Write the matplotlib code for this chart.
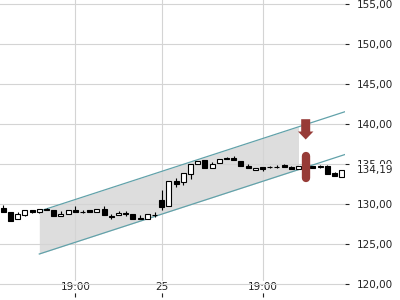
import matplotlib
matplotlib.use("Agg")
import matplotlib.pyplot as plt
import matplotlib.transforms as mtransforms
from matplotlib.patches import Polygon
import numpy as np

# ---- data ----
opens = [129.55, 129.0, 128.1, 128.6, 129.25, 129.0, 129.38, 129.25, 128.45, 128.7,
         129.25, 129.05, 129.2, 129.0, 129.38, 128.55, 128.62, 128.92, 128.7, 128.3,
         128.1, 128.6, 130.5, 129.7, 132.9, 132.8, 133.75, 135.0, 135.5, 134.45,
         135.1, 135.75, 135.75, 135.35, 134.8, 134.25, 134.6, 134.6, 134.65, 134.85,
         134.6, 134.4, 134.7, 134.75, 134.65, 134.7, 133.85, 133.4]
closes = [129.05, 127.9, 128.7, 129.3, 129.0, 129.33, 129.2, 128.55, 128.7, 129.2,
          129.05, 129.0, 128.97, 129.38, 128.62, 128.38, 128.85, 128.75, 128.12, 128.12,
          128.7, 128.65, 129.65, 132.9, 132.45, 133.85, 135.0, 135.4, 134.45, 135.0,
          135.6, 135.6, 135.55, 134.8, 134.5, 134.45, 134.4, 134.65, 134.65, 134.6,
          134.4, 134.75, 134.75, 134.55, 134.7, 133.75, 133.5, 134.19]
highs = [129.9, 129.0, 128.95, 129.3, 129.25, 129.33, 129.55, 129.25, 129.1, 129.2,
         129.75, 129.2, 129.3, 129.38, 129.75, 128.7, 129.1, 129.1, 128.7, 128.62,
         128.7, 128.95, 131.75, 132.9, 133.2, 133.85, 135.0, 135.4, 135.5, 135.3,
         135.6, 135.9, 135.95, 135.35, 135.0, 134.45, 134.6, 134.8, 134.85, 135.0,
         134.7, 134.75, 134.9, 134.75, 134.9, 134.85, 134.0, 134.19]
lows = [129.05, 127.9, 128.1, 128.45, 128.9, 128.85, 129.2, 128.55, 128.45, 128.7,
        129.05, 128.85, 128.97, 129.0, 128.62, 128.12, 128.62, 128.55, 128.12, 128.12,
        128.1, 128.35, 129.3, 129.7, 132.15, 132.4, 133.1, 135.0, 134.45, 134.45,
        135.1, 135.6, 135.55, 134.8, 134.5, 134.25, 134.15, 134.45, 134.55, 134.6,
        134.4, 134.4, 134.5, 134.55, 134.45, 133.75, 133.5, 133.4]

x_tick_pos = [10, 22, 36]
x_tick_labels = ["19:00", "25", "19:00"]
y_ticks = [120, 125, 130, 135, 140, 145, 150, 155]
last_price = 134.19

channel_x = [5, 47.5]
channel_upper = [129.1, 141.55]
channel_lower = [123.75, 136.2]
channel_fill_end = 41

signal_x = 42
pill_range = [132.71, 136.54]
arrow_top, arrow_head_base, arrow_tip = 140.6, 139.06, 138.06

# ---- figure ----
fig = plt.figure(figsize=(4, 3), dpi=100)
ax = fig.add_axes([0, 3 / 300, 345 / 400, 297 / 300])
ax.set_xlim(-3.3 / 7.2, (345 - 3.3) / 7.2)
ax.set_ylim(118.375, 155.5)

for s in ax.spines.values():
    s.set_visible(False)

ax.set_axisbelow(True)
ax.grid(True, color="#d4d4d4", lw=0.8)

# channel
xf = np.linspace(channel_x[0], channel_fill_end, 50)
ax.fill_between(xf, np.interp(xf, channel_x, channel_lower),
                np.interp(xf, channel_x, channel_upper),
                color="#dddddd", lw=0, zorder=0.3)
ax.plot(channel_x, channel_upper, color="#62a2aa", lw=0.9, zorder=2)
ax.plot(channel_x, channel_lower, color="#62a2aa", lw=0.9, zorder=2)

# candles
x = np.arange(len(opens))
o = np.array(opens); c = np.array(closes)
ax.vlines(x, lows, highs, color="black", lw=0.8, zorder=3)
face = ["white" if cc > oo else "black" for oo, cc in zip(o, c)]
ax.bar(x, np.abs(c - o), bottom=np.minimum(o, c), width=0.68,
       color=face, edgecolor="black", lw=0.8, zorder=4)

# signal: pill + arrow
red = "#973b37"
r = 4 / 8.0
ax.plot([signal_x, signal_x], [pill_range[0] + r, pill_range[1] - r],
        color=red, lw=6, solid_capstyle="round", zorder=5)
sw, hw = 0.625, 1.07
arrow = Polygon([(signal_x - sw, arrow_top), (signal_x + sw, arrow_top),
                 (signal_x + sw, arrow_head_base), (signal_x + hw, arrow_head_base),
                 (signal_x, arrow_tip), (signal_x - hw, arrow_head_base),
                 (signal_x - sw, arrow_head_base)],
                closed=True, color=red, lw=0, zorder=5)
ax.add_patch(arrow)

# ticks
tc = "#222222"
ax.yaxis.tick_right()
ax.set_yticks(y_ticks)
ax.set_yticklabels([f"{v:.2f}".replace(".", ",") for v in y_ticks])
ax.tick_params(axis="y", direction="out", length=3, width=0.8, color=tc,
               labelcolor=tc, labelsize=7.5, pad=5.5)
ax.set_xticks(x_tick_pos)
ax.set_xticklabels(x_tick_labels)
ax.tick_params(axis="x", direction="in", length=3, width=0.8, color=tc,
               labelcolor=tc, labelsize=7.5, pad=-10.8)
for lab in ax.get_xticklabels():
    lab.set_bbox(dict(facecolor="white", edgecolor="none", pad=0.5))

ax.annotate(f"{last_price:.2f}".replace(".", ","), xy=(1, last_price),
            xycoords=("axes fraction", "data"), xytext=(8.5, 0),
            textcoords="offset points", ha="left", va="center",
            fontsize=7.5, color=tc, annotation_clip=False,
            bbox=dict(facecolor="white", edgecolor="none", pad=1.0), zorder=10)

fig.savefig("out.png", dpi=100)
